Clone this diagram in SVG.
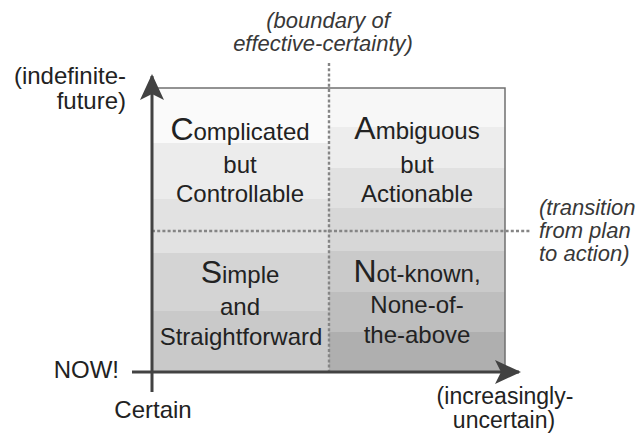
<svg xmlns="http://www.w3.org/2000/svg" width="637" height="433" viewBox="0 0 637 433">
  <style>
    .t { font-family: "Liberation Sans", Arial, sans-serif; font-size: 24px; fill: #222222; }
    .q { text-anchor: middle; }
    .big { font-size: 32px; }
    .sm { font-size: 23px; }
    .note { font-family: "Liberation Sans", Arial, sans-serif; font-size: 22px; font-style: italic; fill: #383838; }
    .axis { stroke: #424242; stroke-width: 3; fill: none; }
    .dash { stroke: #858585; stroke-width: 2.4; stroke-dasharray: 3 2.2; fill: none; }
    .frame { stroke: #707070; stroke-width: 1.5; fill: none; }
  </style>
  <defs>
    <marker id="head" viewBox="0 0 26 24" refX="24" refY="12" markerWidth="26" markerHeight="24" markerUnits="userSpaceOnUse" orient="auto">
      <path d="M26,12 L0,0 L6,12 L0,24 Z" fill="#424242"/>
    </marker>
  </defs>

  <rect width="637" height="433" fill="#ffffff"/>

  <!-- left column bands: certain side -->
  <g id="bands-left">
    <rect x="152" y="88" width="177" height="55" fill="#fafafa"/>
    <rect x="152" y="143" width="177" height="56" fill="#ececec"/>
    <rect x="152" y="199" width="177" height="54" fill="#e2e2e2"/>
    <rect x="152" y="253" width="177" height="58" fill="#d4d4d4"/>
    <rect x="152" y="311" width="177" height="61" fill="#c9c9c9"/>
  </g>
  <!-- right column bands: uncertain side -->
  <g id="bands-right">
    <rect x="329" y="88" width="176" height="39" fill="#f7f7f7"/>
    <rect x="329" y="127" width="176" height="41" fill="#ededed"/>
    <rect x="329" y="168" width="176" height="40" fill="#e1e1e1"/>
    <rect x="329" y="208" width="176" height="43" fill="#d7d7d7"/>
    <rect x="329" y="251" width="176" height="41" fill="#cacaca"/>
    <rect x="329" y="292" width="176" height="40" fill="#bebebe"/>
    <rect x="329" y="332" width="176" height="40" fill="#afafaf"/>
  </g>

  <path class="frame" d="M152,88 H505 V372"/>

  <!-- quadrants -->
  <g id="complicated">
    <text class="t q" x="240" y="140"><tspan class="big">C</tspan>omplicated</text>
    <text class="t q" x="240" y="173">but</text>
    <text class="t q" x="240" y="202">Controllable</text>
  </g>
  <g id="ambiguous">
    <text class="t q" x="417" y="139"><tspan class="big">A</tspan>mbiguous</text>
    <text class="t q" x="417" y="173">but</text>
    <text class="t q" x="417" y="202">Actionable</text>
  </g>
  <g id="simple">
    <text class="t q" x="240" y="283"><tspan class="big">S</tspan>imple</text>
    <text class="t q" x="240" y="315">and</text>
    <text class="t q" x="241" y="345">Straightforward</text>
  </g>
  <g id="not-known">
    <text class="t q" x="417" y="282"><tspan class="big">N</tspan>ot-known,</text>
    <text class="t q" x="417" y="313">None-of-</text>
    <text class="t q" x="417" y="343">the-above</text>
  </g>

  <!-- axes and boundary lines -->
  <g id="connectors">
    <line class="dash" x1="329" y1="63" x2="329" y2="372"/>
    <line class="dash" x1="152" y1="231" x2="531" y2="231"/>
    <line class="axis" x1="152" y1="392" x2="152" y2="76" marker-end="url(#head)"/>
    <line class="axis" x1="132" y1="372" x2="519" y2="372" marker-end="url(#head)"/>
  </g>

  <!-- axis and line labels -->
  <g id="labels">
    <text class="t" x="126" y="84" text-anchor="end">(indefinite-</text>
    <text class="t" x="126" y="109" text-anchor="end">future)</text>
    <text class="t" x="119" y="378" text-anchor="end">NOW!</text>
    <text class="t" x="153" y="418" text-anchor="middle">Certain</text>
    <text class="t sm" x="505" y="404" text-anchor="middle">(increasingly-</text>
    <text class="t sm" x="504" y="428" text-anchor="middle">uncertain)</text>
    <text class="note" x="328" y="28" text-anchor="middle">(boundary of</text>
    <text class="note" x="323" y="51" text-anchor="middle">effective-certainty)</text>
    <text class="note" x="539" y="215">(transition</text>
    <text class="note" x="539" y="238">from plan</text>
    <text class="note" x="539" y="261">to action)</text>
  </g>
</svg>
